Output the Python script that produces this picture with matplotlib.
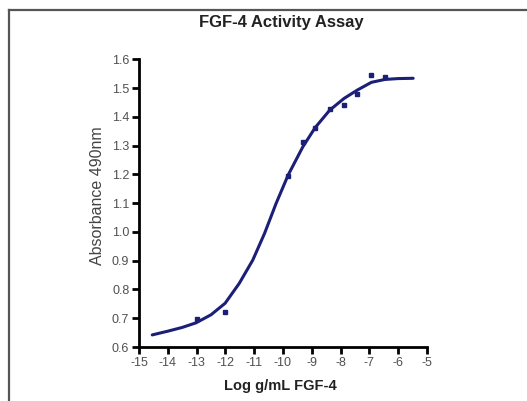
import matplotlib
matplotlib.use("Agg")
import matplotlib.pyplot as plt
from matplotlib.lines import Line2D

plt.rcParams['font.family'] = ['Liberation Sans', 'DejaVu Sans']

title = "FGF-4 Activity Assay"
xlabel = "Log g/mL FGF-4"
ylabel = "Absorbance 490nm"

# measured points
point_logx = [-13.0, -12.0, -9.82, -9.31, -8.88, -8.38, -7.88, -7.42, -6.93, -6.46]
point_abs = [0.696, 0.720, 1.195, 1.312, 1.360, 1.426, 1.441, 1.481, 1.544, 1.539]

# fitted curve
curve_logx = [-14.54, -14.0, -13.5, -13.02, -12.5, -12.01, -11.52, -11.05, -10.64,
              -10.24, -9.82, -9.31, -8.88, -8.38, -7.88, -7.42, -6.93, -6.46, -6.0, -5.48]
curve_abs = [0.642, 0.655, 0.668, 0.684, 0.712, 0.752, 0.821, 0.902, 0.995,
             1.099, 1.198, 1.296, 1.363, 1.423, 1.464, 1.493, 1.520, 1.530, 1.533, 1.534]

xticks = [-15, -14, -13, -12, -11, -10, -9, -8, -7, -6, -5]
xtick_labels = ["-15", "-14", "-13", "-12", "-11", "-10", "-9", "-8", "-7", "-6", "-5"]
yticks = [0.6, 0.7, 0.8, 0.9, 1.0, 1.1, 1.2, 1.3, 1.4, 1.5, 1.6]
ytick_labels = ["0.6", "0.7", "0.8", "0.9", "1.0", "1.1", "1.2", "1.3", "1.4", "1.5", "1.6"]

W, H = 527, 401
fig = plt.figure(figsize=(W / 100, H / 100), dpi=100)
fig.patch.set_facecolor("white")

left, right, top, bottom = 139, 427, 59.3, 347
ax = fig.add_axes([left / W, 1 - bottom / H, (right - left) / W, (bottom - top) / H])

navy = "#1c1f78"
ax.plot(curve_logx, curve_abs, color=navy, lw=2.2, solid_capstyle="round", zorder=2)
ax.plot(point_logx, point_abs, ls="none", marker="s", ms=3.5, color=navy, zorder=3)

ax.set_xlim(-15, -5)
ax.set_ylim(0.6, 1.6)
ax.set_xticks(xticks)
ax.set_xticklabels(xtick_labels)
ax.set_yticks(yticks)
ax.set_yticklabels(ytick_labels)

for s in ["top", "right"]:
    ax.spines[s].set_visible(False)
for s in ["left", "bottom"]:
    ax.spines[s].set_linewidth(2.0)
    ax.spines[s].set_color("black")
ax.tick_params(direction="out", length=5, width=2, labelsize=9, colors="black",
               labelcolor="#505050", pad=2)

fig.text(280 / W, 1 - 386 / H, xlabel, ha="center", va="center",
         fontsize=10.5, fontweight="bold", color="#222222")
fig.text(97 / W, 1 - 196 / H, ylabel, ha="center", va="center", rotation=90,
         fontsize=11.5, color="#444444")
fig.text(281 / W, 1 - 22 / H, title, ha="center", va="center",
         fontsize=12, fontweight="bold", color="#222222")

# frame lines at top and left of the image
fig.add_artist(Line2D([9 / W, 1], [1 - 10 / H, 1 - 10 / H], color="#555555", lw=1.6,
                      transform=fig.transFigure))
fig.add_artist(Line2D([9 / W, 9 / W], [0, 1 - 10 / H], color="#555555", lw=1.6,
                      transform=fig.transFigure))

fig.savefig("out.png", dpi=100)
